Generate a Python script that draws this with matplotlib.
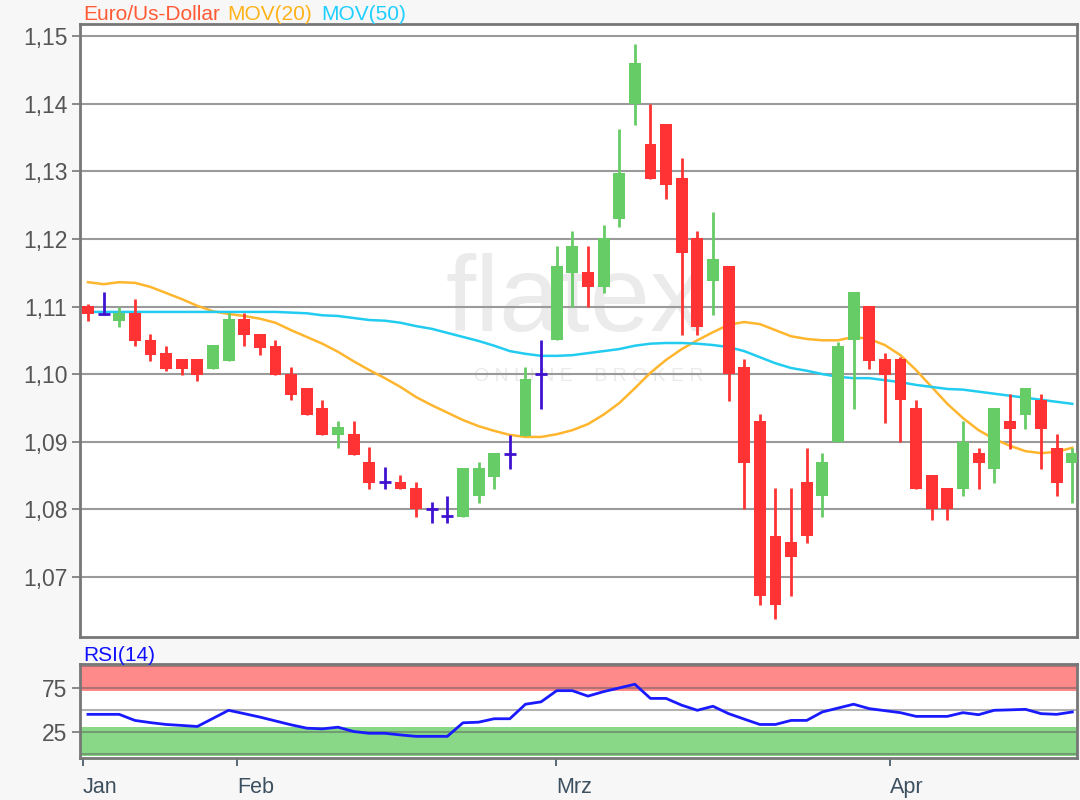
import numpy as np
import matplotlib.pyplot as plt

plt.rcParams['font.family'] = ['Liberation Sans', 'DejaVu Sans']

# daily candles, Euro / US-Dollar
opens = [1.1101, 1.1089, 1.1079, 1.1090, 1.1051, 1.1031, 1.1022, 1.1022, 1.1007, 1.1019,
         1.1081, 1.1060, 1.1042, 1.1000, 1.0980, 1.0950, 1.0910, 1.0912, 1.0870, 1.0840,
         1.0841, 1.0832, 1.0801, 1.0790, 1.0789, 1.0819, 1.0848, 1.0882, 1.0908, 1.1000,
         1.1050, 1.1150, 1.1151, 1.1129, 1.1229, 1.1400, 1.1341, 1.1370, 1.1290, 1.1202,
         1.1138, 1.1160, 1.1010, 1.0930, 1.0761, 1.0752, 1.0841, 1.0819, 1.0900, 1.1050,
         1.1101, 1.1022, 1.1022, 1.0950, 1.0850, 1.0832, 1.0830, 1.0883, 1.0859, 1.0930,
         1.0940, 1.0961, 1.0891, 1.0869]
highs = [1.1103, 1.1122, 1.1100, 1.1111, 1.1060, 1.1042, 1.1022, 1.1022, 1.1043, 1.1090,
         1.1090, 1.1060, 1.1050, 1.1010, 1.0980, 1.0962, 1.0930, 1.0930, 1.0892, 1.0862,
         1.0850, 1.0841, 1.0811, 1.0820, 1.0861, 1.0870, 1.0883, 1.0910, 1.1010, 1.1051,
         1.1190, 1.1211, 1.1190, 1.1220, 1.1362, 1.1488, 1.1400, 1.1370, 1.1320, 1.1211,
         1.1240, 1.1160, 1.1022, 1.0941, 1.0832, 1.0832, 1.0891, 1.0883, 1.1048, 1.1122,
         1.1101, 1.1031, 1.1026, 1.0962, 1.0850, 1.0832, 1.0930, 1.0891, 1.0950, 1.0971,
         1.0980, 1.0971, 1.0912, 1.0891]
lows = [1.1079, 1.1088, 1.1069, 1.1041, 1.1019, 1.1005, 1.0999, 1.0990, 1.1007, 1.1019,
        1.1041, 1.1028, 1.0999, 1.0961, 1.0940, 1.0910, 1.0890, 1.0880, 1.0830, 1.0830,
        1.0830, 1.0789, 1.0780, 1.0780, 1.0789, 1.0810, 1.0830, 1.0859, 1.0908, 1.0948,
        1.1050, 1.1100, 1.1100, 1.1120, 1.1218, 1.1368, 1.1288, 1.1259, 1.1058, 1.1058,
        1.1087, 1.0960, 1.0800, 1.0659, 1.0637, 1.0671, 1.0750, 1.0789, 1.0900, 1.0948,
        1.1008, 1.0927, 1.0900, 1.0830, 1.0784, 1.0784, 1.0819, 1.0830, 1.0839, 1.0889,
        1.0919, 1.0860, 1.0819, 1.0810]
closes = [1.1089, 1.1089, 1.1090, 1.1049, 1.1028, 1.1007, 1.1007, 1.0999, 1.1043, 1.1081,
          1.1058, 1.1039, 1.0999, 1.0969, 1.0940, 1.0910, 1.0921, 1.0880, 1.0839, 1.0840,
          1.0830, 1.0800, 1.0801, 1.0790, 1.0861, 1.0861, 1.0883, 1.0882, 1.0992, 1.1000,
          1.1160, 1.1190, 1.1129, 1.1201, 1.1298, 1.1460, 1.1288, 1.1280, 1.1179, 1.1070,
          1.1170, 1.1000, 1.0869, 1.0671, 1.0659, 1.0730, 1.0760, 1.0870, 1.1042, 1.1122,
          1.1019, 1.0999, 1.0962, 1.0830, 1.0800, 1.0800, 1.0900, 1.0869, 1.0950, 1.0919,
          1.0980, 1.0919, 1.0839, 1.0883]

mov20 = [1.1136, 1.1133, 1.1136, 1.1135, 1.1129, 1.1120, 1.1111, 1.1101, 1.1093, 1.1089,
         1.1086, 1.1082, 1.1076, 1.1065, 1.1055, 1.1045, 1.1033, 1.1019, 1.1006, 1.0994,
         1.0981, 1.0966, 1.0954, 1.0943, 1.0932, 1.0923, 1.0916, 1.0910, 1.0907, 1.0907,
         1.0911, 1.0917, 1.0926, 1.0940, 1.0957, 1.0979, 1.1002, 1.1021, 1.1037, 1.1050,
         1.1062, 1.1073, 1.1077, 1.1074, 1.1065, 1.1056, 1.1052, 1.1050, 1.1050, 1.1055,
         1.1052, 1.1043, 1.1028, 1.1006, 1.0981, 1.0956, 1.0935, 1.0917, 1.0904, 1.0894,
         1.0886, 1.0883, 1.0885, 1.0891]
mov50 = [1.1092, 1.1092, 1.1092, 1.1092, 1.1092, 1.1092, 1.1092, 1.1092, 1.1092, 1.1092,
         1.1092, 1.1092, 1.1092, 1.1091, 1.1090, 1.1087, 1.1086, 1.1083, 1.1080, 1.1079,
         1.1076, 1.1071, 1.1067, 1.1061, 1.1055, 1.1049, 1.1042, 1.1034, 1.1030, 1.1027,
         1.1027, 1.1028, 1.1031, 1.1034, 1.1037, 1.1042, 1.1045, 1.1046, 1.1046, 1.1045,
         1.1043, 1.1040, 1.1034, 1.1025, 1.1016, 1.1009, 1.1005, 1.1000, 1.0996, 1.0994,
         1.0994, 1.0991, 1.0988, 1.0984, 1.0981, 1.0978, 1.0977, 1.0974, 1.0971, 1.0968,
         1.0965, 1.0962, 1.0959, 1.0956]
rsi = [45.4, 45.4, 45.4, 38.5, 36.0, 33.9, 32.8, 31.6, 40.8, 50.0,
       46.2, 42.3, 37.9, 33.5, 29.7, 28.9, 30.8, 25.9, 23.9, 23.9,
       22.0, 20.4, 20.4, 20.4, 35.8, 36.5, 40.4, 40.4, 56.9, 59.6,
       72.3, 72.3, 66.1, 71.2, 75.4, 79.6, 63.5, 63.5, 55.8, 50.0,
       54.6, 46.2, 40.0, 33.9, 33.9, 38.5, 38.5, 48.1, 52.5, 56.9,
       51.9, 49.6, 47.3, 43.1, 43.1, 43.1, 47.3, 45.0, 50.0, 50.5,
       51.1, 46.2, 45.4, 48.1]

price_ticks = [1.07, 1.08, 1.09, 1.10, 1.11, 1.12, 1.13, 1.14, 1.15]
price_labels = ['1,07', '1,08', '1,09', '1,10', '1,11', '1,12', '1,13', '1,14', '1,15']
month_pos = [-0.32, 9.54, 29.96, 51.3]
month_labels = ['Jan', 'Feb', 'Mrz', 'Apr']

UP = '#66cc66'
DOWN = '#ff3333'
DOJI = '#4012d0'

fig = plt.figure(figsize=(10.8, 8), dpi=100, facecolor='#f7f7f7')
ax = fig.add_axes([80 / 1080, 1 - 637 / 800, 997 / 1080, 613 / 800])
rax = fig.add_axes([80 / 1080, 1 - 758 / 800, 997 / 1080, 94 / 800])

o = np.array(opens)
h = np.array(highs)
l = np.array(lows)
c = np.array(closes)
x = np.arange(len(o))

up = c > o
down = c < o
flat = c == o
w = 0.76

# moving averages go behind the candles
ax.plot(x, mov20, color='#ffb62e', lw=1.8, zorder=2)
ax.plot(x, mov50, color='#22ccf0', lw=1.8, zorder=2)

for mask, col in [(up, UP), (down, DOWN)]:
    ax.vlines(x[mask], l[mask], h[mask], color=col, lw=2, zorder=3)
    ax.bar(x[mask], np.abs(c - o)[mask], bottom=np.minimum(o, c)[mask], width=w,
           color=col, zorder=4)
ax.vlines(x[flat], l[flat], h[flat], color=DOJI, lw=2, zorder=4)
ax.hlines(o[flat], x[flat] - w / 2, x[flat] + w / 2, color=DOJI, lw=2, zorder=4)

ax.set_xlim(-0.51, 63.3)
ax.set_ylim(1.0611, 1.1518)
ax.set_yticks(price_ticks)
ax.set_yticklabels(price_labels)
ax.set_axisbelow(True)
ax.grid(axis='y', color='#9a9a9a', lw=1.5)
ax.tick_params(axis='y', length=6, width=1.2, color='#777777', labelcolor='#555555',
               labelsize=16.5, pad=3)
ax.tick_params(axis='x', bottom=False, labelbottom=False)
for s in ax.spines.values():
    s.set_color('#777777')
    s.set_linewidth(2)

# watermark
ax.text(0.497, 0.545, 'flatex', transform=ax.transAxes, ha='center', va='center',
        fontsize=78, color='#ebebeb', zorder=0.1)
ax.text(0.51, 0.425, 'O N L I N E    B R O K E R', transform=ax.transAxes,
        ha='center', va='center', fontsize=14, color='#ebebeb', zorder=0.1)

# RSI panel
rax.set_xlim(-0.51, 63.3)
rax.set_ylim(-4.2, 102.6)
rax.axhspan(72, 100, color='#ff8a8a', lw=0, zorder=1)
rax.axhspan(-1.5, 31, color='#88d888', lw=0, zorder=1)
for lvl in [0, 25, 50, 75, 100]:
    rax.axhline(lvl, color='#555555', alpha=0.45, lw=1.5, zorder=2)
rax.plot(x, rsi, color='#1a1aff', lw=2, zorder=3)
rax.set_yticks([25, 75])
rax.set_yticklabels(['25', '75'])
rax.set_xticks(month_pos)
rax.set_xticklabels(month_labels, ha='left')
rax.tick_params(axis='y', length=6, width=1.2, color='#777777', labelcolor='#555555',
                labelsize=16.5, pad=3)
rax.tick_params(axis='x', length=6, width=1.2, color='#3d5060', labelcolor='#3d5060',
                labelsize=15.5, pad=8)
for s in rax.spines.values():
    s.set_color('#777777')
    s.set_linewidth(2)

# headers
fig.text(83 / 1080, 1 - 20 / 800, 'Euro/Us-Dollar', color='#ff5a36', fontsize=15, va='baseline')
fig.text(227 / 1080, 1 - 20 / 800, 'MOV(20)', color='#ffb21a', fontsize=15, va='baseline')
fig.text(321 / 1080, 1 - 20 / 800, 'MOV(50)', color='#1ecfff', fontsize=15, va='baseline')
fig.text(83 / 1080, 1 - 661 / 800, 'RSI(14)', color='#1010ff', fontsize=15, va='baseline')

fig.savefig('out.png', dpi=100, facecolor=fig.get_facecolor())
